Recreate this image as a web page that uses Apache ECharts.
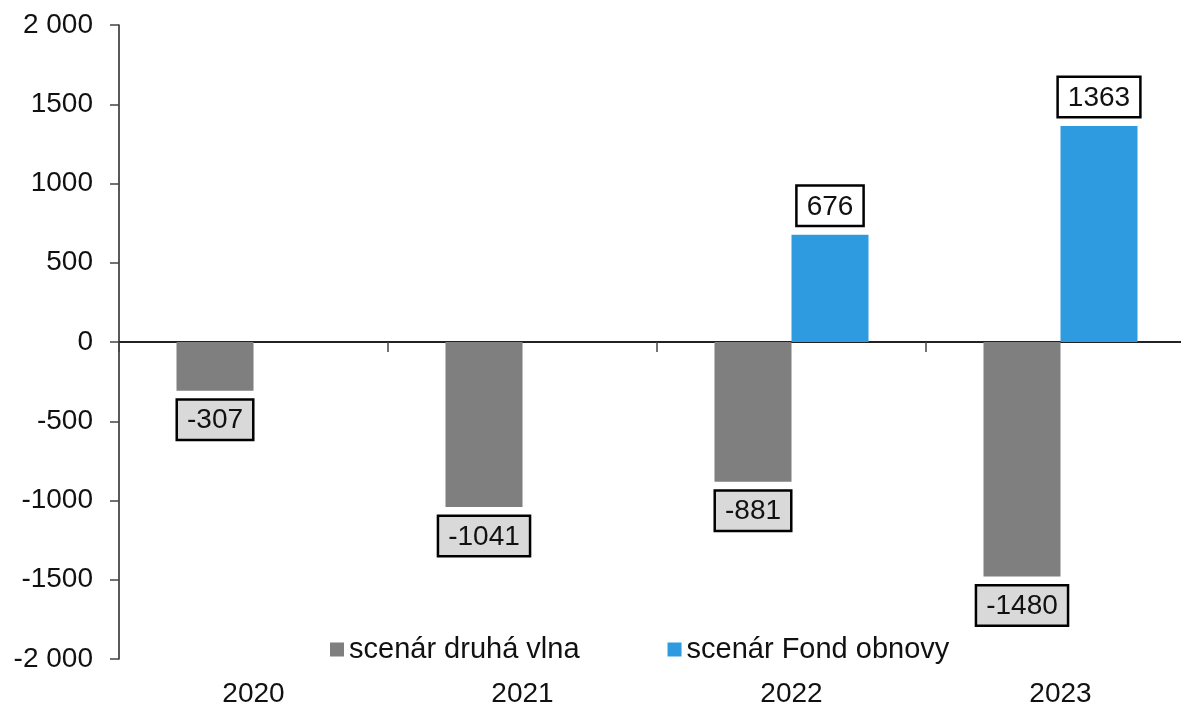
<!DOCTYPE html>
<html>
<head>
<meta charset="utf-8">
<script src="https://cdn.jsdelivr.net/npm/echarts@6/dist/echarts.min.js"></script>
<style>
  html, body { margin: 0; padding: 0; background: #fff; overflow: hidden; }
  /* canvas a bit wider than the window: the last category runs past the right edge in the source */
  #chart { width: 1195px; height: 708px; }
</style>
</head>
<body>
<div id="chart"></div>
<script>
// data
var years = ['2020', '2021', '2022', '2023'];
var druhaVlna = [-307, -1041, -881, -1480];
var fondObnovy = [null, null, 676, 1363];
var seriesNames = ['scenár druhá vlna', 'scenár Fond obnovy'];
var yMin = -2000, yMax = 2000, yStep = 500;

var font = 'Liberation Sans';

function yLabel(v) {
    // thousands separator only on the end ticks, as in the source
    if (Math.abs(v) >= 2000) {
        return (v < 0 ? '-' : '') + '2 000';
    }
    return String(v);
}

var ec = echarts.init(document.getElementById('chart'));

var boxLabel = function (bg, pos) {
    return {
        show: true,
        position: pos,
        distance: 10,
        fontFamily: font,
        fontSize: 28,
        color: '#111',
        backgroundColor: bg,
        borderColor: '#000',
        borderWidth: 2.5,
        padding: [6, 9, 4, 9],
        formatter: function (p) {
            return p.value == null ? '' : String(p.value);
        }
    };
};

var option = {
    animation: false,
    grid: {
        left: 119,
        right: 0,
        top: 25,
        bottom: 47
    },
    legend: {
        left: 325,
        top: 630,
        itemWidth: 14,
        itemHeight: 14,
        itemGap: 88,
        icon: 'rect',
        textStyle: {fontFamily: font, fontSize: 29, color: '#111'},
        data: seriesNames
    },
    xAxis: [
        {
            // zero line with category separators
            type: 'category',
            data: years,
            position: 'top',
            axisLine: {onZero: true, lineStyle: {color: '#222', width: 2}},
            axisTick: {show: true, inside: true, length: 10, lineStyle: {color: '#444', width: 1.5}},
            axisLabel: {show: false}
        },
        {
            // year labels at the bottom
            type: 'category',
            data: years,
            position: 'bottom',
            axisLine: {show: false, onZero: false},
            axisTick: {show: false},
            axisLabel: {fontFamily: font, fontSize: 28, color: '#111', margin: 21}
        }
    ],
    yAxis: {
        type: 'value',
        min: yMin,
        max: yMax,
        interval: yStep,
        splitLine: {show: false},
        axisLine: {show: true, lineStyle: {color: '#222', width: 1.5}},
        axisTick: {show: true, length: 9, lineStyle: {color: '#444', width: 1.5}},
        axisLabel: {
            fontFamily: font,
            fontSize: 28,
            color: '#111',
            margin: 26,
            formatter: yLabel
        }
    },
    series: [
        {
            name: seriesNames[0],
            type: 'bar',
            xAxisIndex: 0,
            data: druhaVlna,
            barWidth: 77,
            barGap: '0%',
            itemStyle: {color: '#7f7f7f'},
            label: boxLabel('#d9d9d9', 'bottom')
        },
        {
            name: seriesNames[1],
            type: 'bar',
            xAxisIndex: 0,
            data: fondObnovy,
            barWidth: 77,
            barGap: '0%',
            itemStyle: {color: '#2e9adf'},
            label: boxLabel('#ffffff', 'top')
        }
    ]
};

ec.setOption(option);
</script>
</body>
</html>
